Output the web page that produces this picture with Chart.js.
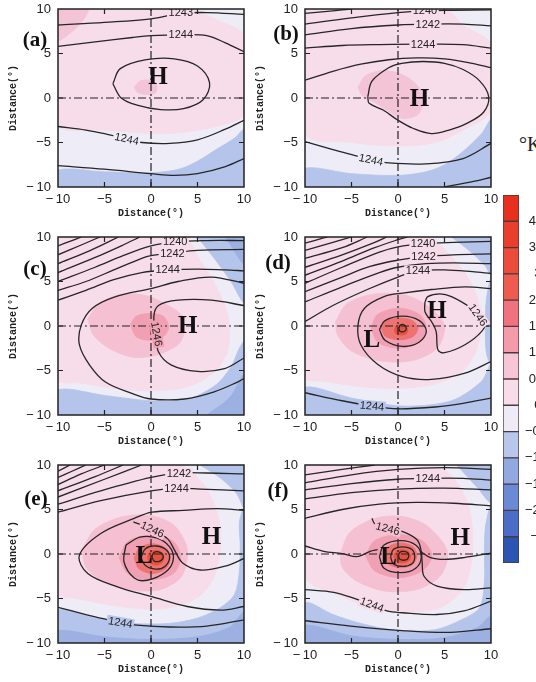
<!DOCTYPE html>
<html><head><meta charset="utf-8">
<script src="https://cdn.jsdelivr.net/npm/chart.js"></script>
<style>
html,body{margin:0;padding:0;background:#fff;overflow:hidden;width:536px;height:682px;position:relative}
canvas{position:absolute}
#unit{position:absolute;left:519px;top:134px;font:20px 'Liberation Serif';color:#222;white-space:nowrap;line-height:20px}
</style></head><body>
<div id="unit">°K</div>
<script>
// ---------- shared data ----------
const axisTicks = [-10, -5, 0, 5, 10];
const axisTickLabels = ['−\u200910', '−5', '0', '5', '10'];
const axisTitle = 'Distance(°)';
const panelLetters = ['(a)', '(b)', '(c)', '(d)', '(e)', '(f)'];
const colorbarLabels = ['4.2', '3.6', '3', '2.4', '1.8', '1.2', '0.6', '0', '−0.6', '−1.2', '−1.8', '−2.4', '−3'];
const crossH = [[-10, 0], [10, 0]];
const crossV = [[0, -10], [0, 10]];
const fullSquare = [[-10, -10], [10, -10], [10, 10], [-10, 10], [-10, -10]];

// ---------- panel (a) ----------
const aPink = [[-10,10],[4,10],[7,8.8],[10,7],[10,-1.8],[7,-3.2],[3,-3.9],[0,-4.0],[-5,-3.6],[-10,-3.0],[-10,10]];
const aBlue = [[-10,-10],[-10,-8.1],[-5,-8.3],[0,-8.4],[3,-8.0],[5,-7.1],[7,-5.8],[9,-4.5],[10,-3.6],[10,-10],[-10,-10]];
const aCorner = [[-10,10],[-6.8,10],[-7.4,8.6],[-8.8,7.2],[-10,6.5],[-10,10]];
const aBlob = [[-1.8,1.2],[-1.2,1.9],[-0.2,2.0],[0.6,1.5],[0.5,0.6],[-0.4,0.4],[-1.4,0.6],[-1.8,1.2]];
const aC1 = [[-10,8.2],[-5,8.5],[0,8.9],[3.2,9.5],[6,9.6],[10,9.4]];
const aC2 = [[-10,5.8],[-6,6.3],[-2,6.8],[0,7.0],[3.2,7.1],[6,7.0],[8,6.2],[10,5.2]];
const aC3 = [[-4.1,1.6],[-3.3,3.3],[-0.5,4.3],[2.5,4.4],[5.0,3.6],[6.3,1.7],[5.6,-0.2],[3.5,-1.2],[1.0,-1.3],[-1.5,-0.8],[-3.2,0.0],[-4.1,1.6]];
const aC4 = [[-10,-3.2],[-7,-3.6],[-5,-4.0],[-2.6,-4.6],[-1,-5.0],[2,-5.1],[5,-4.7],[8,-3.5],[10,-2.5]];
const aC5 = [[-10,-7.6],[-5,-8.0],[0,-8.5],[2.5,-8.7],[5,-8.5],[8,-7.7],[10,-6.8]];
const aLabels = [['1243',3.2,9.6,0],['1244',3.2,7.1,0],['1244',-2.6,-4.6,12]];
const aMarks = [['H',0.75,2.4]];

// ---------- panel (b) ----------
const bPink = [[-10,10],[5,10],[7,8.2],[10,6],[10,-1.4],[7,-3.6],[4,-5.0],[0,-5.4],[-5,-5.0],[-10,-4.0],[-10,10]];
const bBlue = [[-10,-10],[-10,-7.9],[-5,-8.5],[0,-8.7],[3,-8.3],[5,-7.5],[7,-6],[9,-4],[10,-2.5],[10,-10],[-10,-10]];
const bBlob = [[-4.3,1.2],[-3.5,2.5],[-1.5,3.1],[0.5,2.6],[2,1.5],[2.7,0],[2.2,-1.8],[0.5,-2.3],[-1,-1.5],[-2.5,-0.5],[-3.8,0.2],[-4.3,1.2]];
const bC1 = [[-10,9.5],[-7,9.8],[-5,10]];
const bC2 = [[-10,8.3],[-5,9.0],[0,9.6],[2.9,9.8],[6,9.85],[10,9.9]];
const bC3 = [[-10,7.1],[-5,7.8],[0,8.2],[3.2,8.3],[7,8.3],[10,8.1]];
const bC4 = [[-10,5.6],[-6,5.9],[-2,6.0],[2.7,6.05],[7,6.0],[10,5.6]];
const bC5 = [[-10,2.0],[-7,3.0],[-4,3.8],[-1,4.3],[2,4.5],[5,4.4],[8,3.9],[10,3.4]];
const bC6 = [[-3.25,0.15],[-2.8,1.9],[-1,3.4],[0.4,3.9],[2.7,4.1],[5,3.9],[7,3.2],[8.8,1.9],[9.75,0.15],[9.2,-1.6],[7.4,-2.85],[5.5,-3.6],[3.6,-4.0],[1.6,-3.4],[0,-2.5],[-1.6,-1.35],[-3.1,-0.6],[-3.25,0.15]];
const bC7 = [[-10,-4.9],[-7,-5.8],[-4.5,-6.5],[-2.9,-6.95],[-1,-7.3],[3,-7.4],[7,-6.8],[10,-5.1]];
const bC8 = [[5,-10],[8,-9.4],[10,-8.9]];
const bLabels = [['1240',2.9,9.8,0],['1242',3.2,8.3,0],['1244',2.7,6.05,0],['1244',-2.9,-6.95,12]];
const bMarks = [['H',2.3,-0.1]];

// ---------- panel (c) ----------
const cPink = [[-10,10],[3.5,10],[5.2,7.5],[7,4.5],[8.3,1],[8.3,-2.5],[7,-5],[4,-6.8],[0,-7.3],[-4,-7],[-7.5,-6.4],[-10,-6],[-10,10]];
const cBlueBottom = [[-10,-10],[-10,-7.2],[-5,-7.8],[0,-8.4],[4,-8.2],[7,-6.6],[8.6,-4.6],[9.5,-2.5],[10,-1.8],[10,-10],[-10,-10]];
const cBlueTop = [[5,10],[10,10],[10,2.7],[8.6,5],[6.8,7.6],[5,10]];
const cBlueDark = [[6,-10],[10,-10],[10,-5.5],[8.5,-8],[6,-10]];
const cBlueDark2 = [[8,10],[10,10],[10,7],[8,10]];
const cPink2 = [[-6.8,0.8],[-5.5,2.6],[-3,3.6],[-0.5,3.4],[1.5,2.5],[3.3,1.2],[3.6,-0.3],[3,-2],[0.5,-3.3],[-2,-3.5],[-4.5,-2.5],[-6.2,-1],[-6.8,0.8]];
const cPink3 = [[-2.2,0.2],[-1.6,1.1],[-0.2,1.4],[1.3,1.1],[1.9,-0.1],[1.3,-1.2],[-0.2,-1.6],[-1.6,-1.2],[-2.2,0.2]];
const cF1 = [[-10,9.0],[-8.5,9.6],[-7.5,10]];
const cF2 = [[-10,8.0],[-7.5,9.1],[-5.5,10]];
const cF3 = [[-10,7.0],[-6.5,8.5],[-3.5,10]];
const cF4 = [[-10,6.0],[-6,7.7],[-3,9.1],[-1.2,10]];
const cC1240 = [[-10,5.0],[-6,6.6],[-3,7.9],[0,9.0],[2.6,9.45],[6,9.6],[10,9.6]];
const cC1242 = [[-10,4.0],[-7,5.0],[-4,6.3],[-1,7.6],[0,7.9],[2.3,8.2],[5,8.5],[10,8.6]];
const cC1244 = [[-10,2.9],[-7,4.0],[-4,5.2],[-1,6.0],[1.8,6.3],[5,6.4],[8,6.3],[10,6.2]];
const cOuter = [[10,4.8],[6.5,5.5],[2.9,5.0],[0,4.2],[-3.8,3.3],[-6.3,2],[-7.5,0.1],[-7.7,-2.1],[-6.6,-4.4],[-4.9,-6.3],[-2,-7.6],[0,-8.2],[3.6,-8.2],[6.8,-7.4],[9.3,-6.3],[10,-5.9]];
const cHook = [[10,2.3],[6.5,2.9],[2.9,2.9],[0.8,2.3],[0.3,1.0],[0.6,-0.9],[0.8,-2.9],[2.2,-4.4],[5,-5.1],[7.9,-4.8],[10,-3.6]];
const cLabels = [['1240',2.6,9.45,0],['1242',2.3,8.2,0],['1244',1.8,6.3,0],['1246',0.6,-0.9,80]];
const cMarks = [['H',3.95,0]];

// ---------- panel (d) ----------
const dPink = [[-10,10],[3,10],[6,7.5],[8,4.5],[9,1],[8.5,-2.5],[7,-5],[4,-6.5],[0,-7],[-4,-6.8],[-8,-6.2],[-10,-5.8],[-10,10]];
const dBlueBottom = [[-10,-10],[-10,-6.9],[-5,-8.1],[0.5,-9.0],[5.75,-8.4],[9,-6.2],[10,-4.3],[10,-10],[-10,-10]];
const dBlueTop = [[5.75,10],[10,10],[10,5.7],[9.35,6.8],[7.5,8.6],[5.75,10]];
const dBlueRight = [[10,5.7],[9.5,3],[9.4,0],[9.5,-3],[10,-4.3],[10,5.7]];
const dPink2 = [[-6.7,0.5],[-5.5,2.5],[-2.5,3.6],[1,3.4],[3.5,2.0],[5,0],[4.2,-2.5],[1.5,-3.9],[-2,-3.9],[-5,-2.8],[-6.5,-1],[-6.7,0.5]];
const dPink3 = [[-2.9,-0.2],[-2.2,1.3],[0.1,2.0],[2.3,1.3],[3.05,-0.2],[2.3,-1.8],[0.1,-2.5],[-2.2,-1.8],[-2.9,-0.2]];
const dRed1 = [[-1.8,-0.3],[-1.3,0.6],[0.2,0.9],[1.6,0.6],[2.15,-0.3],[1.6,-1.2],[0.2,-1.55],[-1.3,-1.2],[-1.8,-0.3]];
const dRed2 = [[-0.4,-0.45],[-0.2,0.0],[0.3,0.1],[0.85,0.0],[1.05,-0.45],[0.85,-0.9],[0.3,-1.0],[-0.2,-0.9],[-0.4,-0.45]];
const dF1 = [[-10,9.3],[-8,9.9],[-7.6,10]];
const dF2 = [[-10,8.5],[-7,9.4],[-5,10]];
const dF3 = [[-10,7.6],[-6,8.8],[-3.3,10]];
const dF4 = [[-10,6.6],[-6,8.0],[-2.5,9.4],[-1.2,10]];
const dF5 = [[-10,5.7],[-6,7.3],[-2.5,8.8],[0,9.7],[1,10]];
const dC1240 = [[-10,4.8],[-6,6.6],[-2,8.3],[0,8.9],[2.7,9.25],[6,9.4],[10,9.5]];
const dC1242 = [[-10,3.85],[-6,5.5],[-3,6.7],[0,7.4],[2.75,7.8],[6,8.0],[10,8.1]];
const dC1243 = [[-10,2.7],[-6,4.4],[-2,6.0],[0,6.6],[3,7.0],[6,7.1],[10,7.0]];
const dC1244 = [[-10,0.5],[-7,2.3],[-3.3,4.1],[0,5.5],[2.15,6.2],[5,6.3],[8,6.1],[10,5.9]];
const dOuter = [[10,4.2],[7.2,4.4],[3.6,4.1],[0.5,3.7],[-1.5,3.3],[-3.6,2.0],[-4.3,0.1],[-4,-2.1],[-2.2,-4.3],[0.5,-5.7],[3.6,-6.0],[7.2,-5.3],[10,-4.0]];
const dBottom = [[-10,-7.5],[-6,-8.4],[-2.8,-9.0],[0,-9.3],[4,-9.1],[7,-8.7],[10,-8.1]];
const dRing = [[-2.0,-0.4],[-1.4,0.6],[0.5,1.1],[2.3,0.6],[3.05,-0.6],[2.3,-1.8],[0.5,-2.3],[-1.4,-1.6],[-2.0,-0.4]];
const dCenter = [[0.1,-0.25],[0.25,0.1],[0.6,0.15],[0.85,-0.1],[0.85,-0.45],[0.55,-0.65],[0.2,-0.6],[0.1,-0.25]];
const dHook = [[2.9,2.7],[3.2,3.3],[4.5,3.6],[5.75,3.3],[7.9,2.0],[8.6,1.25],[9.35,0.5],[9,-0.6],[7.2,-2.1],[5,-3.0],[4.3,-2.7],[4.1,-0.6],[3.6,0.5],[2.9,1.6],[2.9,2.7]];
const dLabels = [['1240',2.7,9.25,0],['1242',2.75,7.8,0],['1244',2.15,6.2,0],['1244',-2.8,-9.0,5],['1246',8.6,1.25,55]];
const dMarks = [['L',-2.8,-1.5],['H',4.2,1.7]];

// ---------- panel (e) ----------
const ePink = [[-10,10],[3,10],[5.5,8],[7,5],[7.5,2],[7,-2],[5.5,-4.5],[3,-5.8],[0,-6.2],[-4,-5.8],[-8,-5],[-10,-4.5],[-10,10]];
const eBlueBottom = [[-10,-10],[-10,-6.3],[-6,-7.2],[-2,-7.8],[2,-7.8],[5,-7.2],[7.5,-6],[9,-4.5],[9.5,-2],[9.6,1],[9.5,3.5],[10,5.2],[10,-10],[-10,-10]];
const eBlueTop = [[5.3,10],[10,10],[10,5.2],[9.2,6.8],[7.5,8.5],[5.3,10]];
const eBlueDark = [[-10,-10],[-10,-8.6],[-5,-9.3],[0,-9.6],[5,-9.3],[8.5,-8.2],[10,-6.5],[10,-10],[-10,-10]];
const ePink2 = [[-7.4,0.5],[-6,2.8],[-3,4.2],[0,4.3],[2.5,3.2],[3.9,0.5],[3.3,-2.5],[1,-4],[-2,-4.05],[-5,-3.2],[-7,-1.5],[-7.4,0.5]];
const ePink3 = [[-3.45,-0.4],[-2.5,1.4],[-0.1,2.1],[2.4,1.4],[3.2,-0.4],[2.4,-2.2],[-0.1,-2.9],[-2.5,-2.2],[-3.45,-0.4]];
const eRed1 = [[-1.8,-0.5],[-1.3,0.65],[0.15,1.15],[1.6,0.65],[2.1,-0.5],[1.6,-1.65],[0.15,-2.2],[-1.3,-1.65],[-1.8,-0.5]];
const eRed2 = [[-0.4,-0.4],[-0.15,0.2],[0.5,0.4],[1.15,0.2],[1.4,-0.4],[1.15,-1.0],[0.5,-1.25],[-0.15,-1.0],[-0.4,-0.4]];
const eF1 = [[-10,9.3],[-8.7,10]];
const eF2 = [[-10,8.6],[-8.5,9.3],[-7,10]];
const eF3 = [[-10,7.8],[-7.5,9],[-5,10]];
const eF4 = [[-10,7.1],[-6,8.7],[-3,10]];
const eF5 = [[-10,6.4],[-5,8.4],[-1,10]];
const eC1242 = [[-10,5.6],[-5.4,7.1],[0,8.6],[3.0,9.1],[6,9.1],[10,9.0]];
const eC1244 = [[-10,4.7],[-5.4,6.0],[0,7.1],[2.75,7.4],[5.3,7.3],[10,7.1]];
const eOuter = [[10,4.9],[7.1,5.1],[3.5,4.9],[0.1,4.7],[-1.8,4.0],[-5.4,2.3],[-7.7,-0.15],[-6.8,-2.2],[-3.6,-3.7],[0.1,-4.8],[3.9,-5.9],[7.5,-6.3],[10,-5.9]];
const eHook = [[10,-0.5],[8.2,-1.3],[5.3,-1.8],[3.4,-1.0],[2.5,0.5],[1.8,1.7],[0.15,2.75],[-1.1,3.3],[-1.9,3.6]];
const eRing1 = [[-2.7,1.0],[-1.2,1.9],[0.6,1.8],[2.0,0.8],[2.4,-0.6],[1.6,-2.0],[-0.4,-2.95],[-1.8,-2.7],[-2.9,-0.9],[-2.7,1.0]];
const eRing2 = [[-1.1,-0.4],[-0.6,0.6],[0.5,0.9],[1.6,0.5],[2.0,-0.4],[1.5,-1.4],[0.5,-1.7],[-0.6,-1.3],[-1.1,-0.4]];
const eRing3 = [[0.1,-0.3],[0.3,0.15],[0.8,0.25],[1.25,-0.05],[1.25,-0.55],[0.8,-0.85],[0.3,-0.75],[0.1,-0.3]];
const eBottom = [[-10,-6.0],[-7,-6.8],[-5,-7.3],[-3.3,-7.7],[-1.5,-8.0],[2,-8.2],[6,-8.1],[10,-7.4]];
const eLabels = [['1242',3.0,9.1,0],['1244',2.75,7.4,0],['1246',0.15,2.75,25],['1244',-3.3,-7.7,10]];
const eMarks = [['L',-0.75,-0.2],['H',6.5,2.0]];

// ---------- panel (f) ----------
const fPink = [[-10,10],[4,10],[6.5,7.8],[7.8,4.5],[8,0],[7.2,-3.5],[5,-5.8],[2,-6.5],[-2,-6.2],[-6,-4.8],[-10,-2.5],[-10,10]];
const fBlueBottom = [[-10,-10],[-10,-5.5],[-7,-6.8],[-4,-7.8],[0,-8.6],[4,-8.5],[7,-7.3],[8.8,-6],[9.3,-3],[9.3,0],[9.4,3],[10,5.5],[10,-10],[-10,-10]];
const fBlueTop = [[6.3,10],[10,10],[10,5.8],[8.5,7.5],[6.3,10]];
const fBlueDark = [[-10,-10],[-10,-8.0],[-5,-9.2],[0,-9.6],[5,-9.4],[8.5,-8.3],[10,-7],[10,-10],[-10,-10]];
const fPink2 = [[-6.2,0],[-5.2,2.4],[-2.5,4.0],[0.5,4.2],[3.2,3.1],[5.3,0.3],[4.6,-2.4],[2,-4.0],[-1.5,-4.15],[-4.5,-3.0],[-6,-1.5],[-6.2,0]];
const fPink3 = [[-3.5,-0.2],[-2.5,1.5],[0.1,2.2],[2.6,1.5],[3.65,-0.2],[2.6,-1.9],[0.1,-2.65],[-2.5,-1.9],[-3.5,-0.2]];
const fRed1 = [[-1.5,-0.15],[-1.0,0.85],[0.3,1.25],[1.6,0.85],[2.05,-0.15],[1.6,-1.15],[0.3,-1.55],[-1.0,-1.15],[-1.5,-0.15]];
const fRed2 = [[-0.45,-0.25],[-0.2,0.3],[0.45,0.5],[1.1,0.3],[1.35,-0.25],[1.1,-0.8],[0.45,-1.0],[-0.2,-0.8],[-0.45,-0.25]];
const fC1 = [[-10,8.9],[-6,9.5],[-2.5,10]];
const fC2 = [[-10,8.0],[-5,8.9],[0,9.5],[5,9.7],[10,9.5]];
const fC1244 = [[-10,7.2],[-5,7.9],[0,8.4],[3.2,8.5],[7,8.5],[10,8.3]];
const fC4 = [[-10,6.2],[-5,6.9],[0,7.3],[5,7.4],[10,7.2]];
const fC5 = [[-10,4.0],[-6,5.0],[-2,5.6],[2,5.8],[6,5.7],[10,5.4]];
const fC1246 = [[-2.8,4.0],[-2.5,3.4],[-1.1,2.85],[0.45,2.55],[2.05,1.6],[2.5,0.3],[2.6,-1.0],[2.8,-2.5],[4.2,-3.6],[7.1,-4.0],[10,-3.8]];
const fLeft = [[-10,0.9],[-8,0.3],[-6,0.05],[-4.5,-0.3],[-3.8,-0.1],[-3,0.3],[-2.2,0.5]];
const fRight = [[2.4,0.3],[3.5,-0.4],[5,-0.6],[7.1,-0.4],[10,0.1]];
const fRing1 = [[-2.0,-0.3],[-1.5,1.0],[0.3,1.5],[1.9,1.0],[2.5,-0.3],[1.9,-1.6],[0.3,-2.1],[-1.5,-1.6],[-2.0,-0.3]];
const fRing2 = [[-0.8,-0.3],[-0.5,0.5],[0.5,0.8],[1.5,0.5],[1.8,-0.3],[1.5,-1.1],[0.5,-1.4],[-0.5,-1.1],[-0.8,-0.3]];
const fRing3 = [[0.05,-0.2],[0.2,0.2],[0.6,0.3],[1.05,0.15],[1.15,-0.2],[1.0,-0.6],[0.6,-0.7],[0.2,-0.6],[0.05,-0.2]];
const fBottom1244 = [[-10,-4.0],[-6.9,-4.3],[-4.4,-5.1],[-2.8,-5.7],[-1.2,-6.4],[0.45,-6.6],[4.2,-6.8],[7.1,-6.4],[10,-5.3]];
const fBottom2 = [[-10,-7.5],[-5.1,-8.1],[0.45,-8.6],[5.6,-8.8],[10,-8.4]];
const fLabels = [['1244',3.2,8.5,0],['1246',-1.1,2.85,15],['1244',-2.8,-5.7,20]];
const fMarks = [['L',-1.0,-0.25],['H',6.7,1.9]];

// ---------- styles ----------
const COL = {
  base: '#eeecf6', pink1: '#f7dce9', pink2: '#f4c0d2', pink3: '#f1a0b3',
  red1: '#ee7270', red2: '#e8503f', blue1: '#b4c4ea', blue2: '#9cb1e2', corner: '#f2c4d6'
};
const cbColors = ['#e8301f','#ea3e2c','#ec4c3c','#ee5c50','#f07280','#f59aab','#f7c4d8','#f9dcea','#eeebf6','#b7c6ea','#91a8e0','#6b8ad5','#4b6dc7','#2c54b3'];
const PW = 186, PH = 178;

const PANELS = [
  {L:58, T:9, letterDx:-23, letterY:6.5,
   fills:[[fullSquare,'base'],[aPink,'pink1'],[aBlue,'blue1'],[aCorner,'corner'],[aBlob,'corner']],
   lines:[aC1,aC2,aC3,aC4,aC5], labels:aLabels, labelBg:['pink1','pink1','base'], marks:aMarks},
  {L:305, T:9, letterDx:-19, letterY:7.1,
   fills:[[fullSquare,'base'],[bPink,'pink1'],[bBlue,'blue1'],[bBlob,'corner']],
   lines:[bC1,bC2,bC3,bC4,bC5,bC6,bC7,bC8], labels:bLabels, labelBg:['pink1','pink1','pink1','base'], marks:bMarks},
  {L:58, T:237, letterDx:-23, letterY:6.3,
   fills:[[fullSquare,'base'],[cPink,'pink1'],[cBlueBottom,'blue1'],[cBlueTop,'blue1'],[cBlueDark,'blue2'],[cBlueDark2,'blue2'],[cPink2,'pink2'],[cPink3,'pink3']],
   lines:[cF1,cF2,cF3,cF4,cC1240,cC1242,cC1244,cOuter,cHook], labels:cLabels, labelBg:['pink1','pink1','pink1','pink3'], marks:cMarks},
  {L:305, T:237, letterDx:-27, letterY:7.0,
   fills:[[fullSquare,'base'],[dPink,'pink1'],[dBlueBottom,'blue1'],[dBlueTop,'blue1'],[dBlueRight,'blue1'],[dPink2,'pink2'],[dPink3,'pink3'],[dRed1,'red1'],[dRed2,'red2']],
   lines:[dF1,dF2,dF3,dF4,dF5,dC1240,dC1242,dC1243,dC1244,dOuter,dBottom,dRing,dCenter,dHook], labels:dLabels, labelBg:['pink1','pink1','pink1','blue1','pink1'], marks:dMarks},
  {L:58, T:465, letterDx:-22, letterY:6.1,
   fills:[[fullSquare,'base'],[ePink,'pink1'],[eBlueBottom,'blue1'],[eBlueDark,'blue2'],[eBlueTop,'blue1'],[ePink2,'pink2'],[ePink3,'pink3'],[eRed1,'red1'],[eRed2,'red2']],
   lines:[eF1,eF2,eF3,eF4,eF5,eC1242,eC1244,eOuter,eHook,eRing1,eRing2,eRing3,eBottom], labels:eLabels, labelBg:['pink1','pink1','pink2','blue1'], marks:eMarks},
  {L:305, T:465, letterDx:-27, letterY:7.0,
   fills:[[fullSquare,'base'],[fPink,'pink1'],[fBlueBottom,'blue1'],[fBlueDark,'blue2'],[fBlueTop,'blue1'],[fPink2,'pink2'],[fPink3,'pink3'],[fRed1,'red1'],[fRed2,'red2']],
   lines:[fC1,fC2,fC1244,fC4,fC5,fC1246,fLeft,fRight,fRing1,fRing2,fRing3,fBottom1244,fBottom2], labels:fLabels, labelBg:['pink1','pink2','pink1'], marks:fMarks}
];

function pts(arr) { return arr.map(p => ({x: p[0], y: p[1]})); }

function axisCfg(isX) {
  return {
    type: 'linear', min: -10, max: 10,
    afterBuildTicks: s => { s.ticks = axisTicks.map(v => ({value: v})); },
    ticks: {callback: v => axisTickLabels[axisTicks.indexOf(v)], font: {family: 'Liberation Sans', size: 13},
            color: '#222', padding: isX ? 5 : 7, maxRotation: 0, autoSkip: false},
    grid: {display: false, drawTicks: false}, border: {display: false},
    title: {display: true, text: axisTitle, font: {family: 'Liberation Mono', size: 10, weight: 'bold'}, color: '#222',
            padding: isX ? {top: 0, bottom: 5} : {top: 8, bottom: 0}},
    afterFit: s => {
      if (isX) { s.height = 37; s.paddingLeft = 0; s.paddingRight = 0; }
      else { s.width = 59; s.paddingTop = 0; s.paddingBottom = 0; }
    }
  };
}

function makePanel(idx) {
  const P = PANELS[idx];
  const cv = document.createElement('canvas');
  const cw = 59 + PW + 10, ch = 10 + PH + 37;
  cv.width = cw; cv.height = ch;
  cv.style.left = (P.L - 59) + 'px'; cv.style.top = (P.T - 10) + 'px';
  cv.style.width = cw + 'px'; cv.style.height = ch + 'px';
  document.body.appendChild(cv);

  const layers = [];
  P.fills.forEach(([arr, col]) => layers.push({kind: 'fill', arr, col}));
  layers.push({kind: 'cross', arr: crossH});
  layers.push({kind: 'cross', arr: crossV});
  P.lines.forEach(arr => layers.push({kind: 'line', arr}));
  const N = layers.length;
  const datasets = layers.map((Ly, i) => {
    const base = {data: pts(Ly.arr), showLine: true, pointRadius: 0, pointHoverRadius: 0, order: N - i};
    if (Ly.kind === 'fill') return Object.assign(base, {fill: 'shape', backgroundColor: COL[Ly.col], borderColor: COL[Ly.col], borderWidth: 0.8, tension: Ly.arr === fullSquare ? 0 : 0.3});
    if (Ly.kind === 'cross') return Object.assign(base, {fill: false, borderColor: '#222', borderWidth: 1.2, borderDash: [8, 3, 2, 3], tension: 0});
    return Object.assign(base, {fill: false, borderColor: '#262626', borderWidth: 1.3, tension: 0.35});
  });

  const overlay = {
    id: 'overlay' + idx,
    afterDatasetsDraw(chart) {
      const {ctx, chartArea: a, scales: {x, y}} = chart;
      ctx.save();
      ctx.beginPath(); ctx.rect(a.left, a.top, a.right - a.left, a.bottom - a.top); ctx.clip();
      ctx.textAlign = 'center'; ctx.textBaseline = 'middle';
      ctx.font = '11px "Liberation Sans"';
      P.labels.forEach(([t, vx, vy, rot], i) => {
        ctx.save();
        ctx.translate(x.getPixelForValue(vx), y.getPixelForValue(vy));
        ctx.rotate(rot * Math.PI / 180);
        const w = ctx.measureText(t).width;
        ctx.fillStyle = COL[P.labelBg[i]];
        ctx.fillRect(-w / 2 - 1.5, -5.5, w + 3, 11);
        ctx.fillStyle = '#222';
        ctx.fillText(t, 0, 0.5);
        ctx.restore();
      });
      ctx.font = 'bold 25px "Liberation Serif"';
      ctx.fillStyle = '#111';
      P.marks.forEach(([t, vx, vy]) => ctx.fillText(t, x.getPixelForValue(vx), y.getPixelForValue(vy) + 1));
      ctx.restore();
      // frame + inward ticks
      ctx.save();
      ctx.strokeStyle = '#222'; ctx.lineWidth = 1.5;
      ctx.strokeRect(a.left, a.top, a.right - a.left, a.bottom - a.top);
      ctx.lineWidth = 1.2;
      ctx.beginPath();
      axisTicks.forEach(v => {
        if (Math.abs(v) === 10) return;
        const px = x.getPixelForValue(v), py = y.getPixelForValue(v);
        ctx.moveTo(px, a.bottom); ctx.lineTo(px, a.bottom - 5);
        ctx.moveTo(px, a.top); ctx.lineTo(px, a.top + 5);
        ctx.moveTo(a.left, py); ctx.lineTo(a.left + 5, py);
        ctx.moveTo(a.right, py); ctx.lineTo(a.right - 5, py);
      });
      ctx.stroke();
      // panel letter
      ctx.font = 'bold 21px "Liberation Serif"';
      ctx.fillStyle = '#111'; ctx.textAlign = 'center'; ctx.textBaseline = 'middle';
      ctx.fillText(panelLetters[idx], a.left + P.letterDx, y.getPixelForValue(P.letterY));
      ctx.restore();
    }
  };

  new Chart(cv, {
    type: 'scatter',
    data: {datasets},
    options: {
      responsive: false, animation: false, events: [],
      layout: {padding: {top: 10, right: 10, left: 0, bottom: 0}},
      plugins: {legend: {display: false}, tooltip: {enabled: false}},
      scales: {x: axisCfg(true), y: axisCfg(false)}
    },
    plugins: [overlay]
  });
}

for (let i = 0; i < PANELS.length; i++) makePanel(i);

// ---------- colorbar ----------
(function () {
  const cv = document.createElement('canvas');
  const cw = 69, ch = 388;
  cv.width = cw; cv.height = ch;
  cv.style.left = '490px'; cv.style.top = '185px';
  cv.style.width = cw + 'px'; cv.style.height = ch + 'px';
  document.body.appendChild(cv);
  const nBins = colorbarLabels.length + 1;
  const bottomUp = cbColors.slice(0, nBins).reverse();
  new Chart(cv, {
    type: 'bar',
    data: {labels: [''], datasets: bottomUp.map(c => ({data: [1], backgroundColor: c, borderColor: '#4a3a3a', borderWidth: 1, borderSkipped: false, barPercentage: 1, categoryPercentage: 1}))},
    options: {
      responsive: false, animation: false, events: [],
      layout: {padding: {left: 13, top: 10, bottom: 10, right: 0}},
      plugins: {legend: {display: false}, tooltip: {enabled: false}},
      scales: {
        x: {display: false, stacked: true},
        y: {stacked: true, position: 'right', min: 0, max: nBins,
            afterBuildTicks: s => { s.ticks = colorbarLabels.map((_, i) => ({value: colorbarLabels.length - i})); },
            ticks: {callback: v => colorbarLabels[colorbarLabels.length - v], font: {family: 'Liberation Sans', size: 13}, color: '#222', padding: 6, crossAlign: 'center', autoSkip: false},
            grid: {display: false, drawTicks: false}, border: {display: false},
            afterFit: s => { s.width = 40; s.paddingTop = 0; s.paddingBottom = 0; }}
      }
    }
  });
})();
</script>
</body></html>
